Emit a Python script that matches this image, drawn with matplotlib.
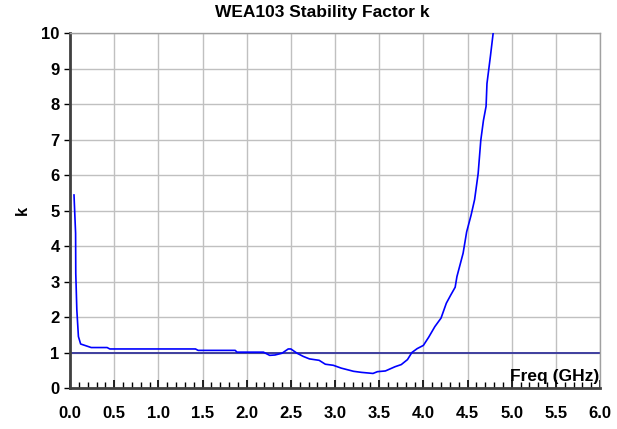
import numpy as np
import matplotlib
matplotlib.use('Agg')
from matplotlib import pyplot as plt
from matplotlib.ticker import MultipleLocator, FormatStrFormatter

plt.rcParams['font.family'] = ['Liberation Sans', 'DejaVu Sans']
plt.rcParams['font.weight'] = 'bold'

# values
freq = [0.045, 0.063, 0.065, 0.077, 0.095, 0.12, 0.24, 0.42, 0.45, 1.42, 1.45,
        1.87, 1.89, 2.19, 2.26, 2.32, 2.40, 2.47, 2.50, 2.57, 2.64, 2.71, 2.82,
        2.89, 2.98, 3.07, 3.21, 3.30, 3.43, 3.48, 3.57, 3.68, 3.75, 3.82, 3.87,
        3.93, 4.00, 4.06, 4.13, 4.20, 4.26, 4.31, 4.36, 4.38, 4.45, 4.49, 4.54,
        4.58, 4.62, 4.65, 4.68, 4.71, 4.72, 4.76, 4.79, 4.82]
k = [5.44, 4.36, 3.23, 2.20, 1.45, 1.24, 1.14, 1.14, 1.10, 1.10, 1.06,
     1.06, 1.01, 1.01, 0.92, 0.93, 0.98, 1.10, 1.10, 0.98, 0.89, 0.82, 0.78,
     0.67, 0.64, 0.56, 0.47, 0.44, 0.41, 0.46, 0.48, 0.60, 0.66, 0.80, 1.00,
     1.11, 1.20, 1.43, 1.73, 1.97, 2.39, 2.62, 2.84, 3.14, 3.80, 4.40, 4.87,
     5.31, 6.04, 6.98, 7.54, 7.94, 8.58, 9.37, 10.0, 10.8]
k_limit = 1.0

fig = plt.figure(figsize=(6.17, 4.29), dpi=100)
ax = fig.add_axes([0.1135, 0.0956, 0.859, 0.827])

ax.grid(True, color='#c0c0c0', lw=1)
ax.set_axisbelow(True)
ax.axhline(k_limit, color='#3f3f9f', lw=1.4, zorder=2)
ax.plot(freq, k, color='#0000ff', lw=1.2, zorder=3)

ax.set_xlim(0, 6)
ax.set_ylim(0, 10)
ax.xaxis.set_major_locator(MultipleLocator(0.5))
ax.xaxis.set_minor_locator(MultipleLocator(0.1))
ax.xaxis.set_major_formatter(FormatStrFormatter('%.1f'))
ax.yaxis.set_major_locator(MultipleLocator(1))
ax.tick_params(axis='x', which='major', direction='in', length=6, width=1.2,
               pad=13, labelsize=12)
ax.tick_params(axis='x', which='minor', direction='in', length=4, width=1)
ax.tick_params(axis='y', which='major', direction='out', length=4, width=1,
               labelsize=12)

for s in ['left', 'bottom']:
    ax.spines[s].set_color('#404040')
    ax.spines[s].set_linewidth(2)
for s in ['top', 'right']:
    ax.spines[s].set_color('#a0a0a0')
    ax.spines[s].set_linewidth(1)

ax.text(5.99, 0.12, 'Freq (GHz)', ha='right', va='bottom', fontsize=12.5,
        fontweight='bold')
ax.set_ylabel('k', fontsize=12, fontweight='bold', labelpad=8)
fig.text(0.523, 0.972, 'WEA103 Stability Factor k', ha='center', va='center',
         fontsize=12.5, fontweight='bold')

plt.savefig('out.png', dpi=100)
